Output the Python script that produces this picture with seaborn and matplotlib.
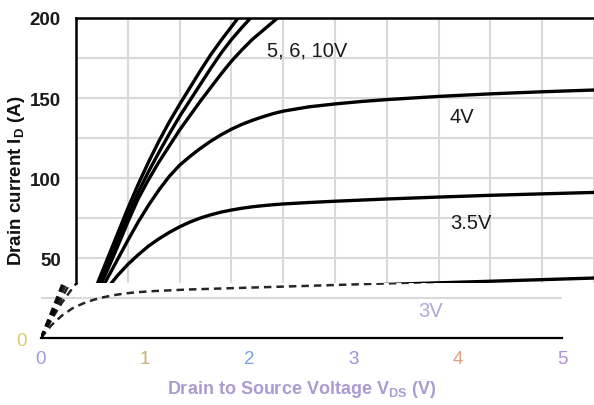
import numpy as np
import pandas as pd
import matplotlib
matplotlib.use("Agg")
import matplotlib.pyplot as plt
import seaborn as sns

# ---- data ----
V_hi = [0, 0.1, 0.2, 0.3, 0.4, 0.5, 0.6, 0.7, 0.8, 0.9, 1.0, 1.1, 1.2, 1.3, 1.4,
        1.5, 1.6, 1.7, 1.8, 1.9, 2.0, 2.1, 2.2]
I_10V = [0, 16.5, 33, 49, 65, 81, 96, 110, 123, 135, 146, 156.5, 167, 177, 186,
         194.5, 203, 211, 218, 225, 232, 238.5, 245]
I_6V = [0, 15.5, 31, 46, 61, 76.5, 91, 104, 116, 127.5, 138.5, 148.5, 158.5, 168.5, 178,
        186.5, 194, 201, 208, 214, 220, 225.5, 231]
I_5V = [0, 14, 28, 42, 57, 72.5, 87, 99, 110, 120, 130, 139, 148, 156.5, 165,
        173, 180, 186.5, 192, 197.5, 203, 208, 213]

V_lo = [0, 0.1, 0.2, 0.3, 0.4, 0.5, 0.6, 0.7, 0.8, 0.9, 1.0, 1.1, 1.2, 1.3, 1.4,
        1.5, 1.6, 1.7, 1.8, 1.9, 2.0, 2.25, 2.5, 2.75, 3.0, 3.5, 4.0, 4.5, 5.0]
I_4V = [0, 12.5, 25, 37, 49, 61, 72.5, 83, 92.5, 101, 108, 113.5, 118.5, 123, 127,
        130.5, 133.5, 136, 138.2, 140.2, 141.8, 144.5, 146.3, 147.8, 149, 151, 152.6, 153.9, 155]
I_3_5V = [0, 11.5, 22, 31, 39, 46, 52, 57.5, 62, 66, 69.5, 72.5, 75, 77, 78.7,
          80, 81.1, 82, 82.7, 83.3, 83.8, 84.7, 85.5, 86.2, 86.9, 88.1, 89.2, 90.1, 91]
I_3V = [0, 8, 14, 18.5, 21.5, 23.8, 25.5, 26.8, 27.8, 28.5, 29, 29.4, 29.7, 30, 30.3,
        30.5, 30.7, 30.9, 31.1, 31.3, 31.5, 32, 32.5, 33, 33.5, 34.5, 35.5, 36.5, 37.5]

x_ticks = [0, 1, 2, 3, 4, 5]
y_ticks = [50, 100, 150, 200]
curve_labels = ["5, 6, 10V", "4V", "3.5V", "3V"]

rows = []
for name, vs, cur in [("10V", V_hi, I_10V), ("6V", V_hi, I_6V), ("5V", V_hi, I_5V),
                      ("4V", V_lo, I_4V), ("3.5V", V_lo, I_3_5V), ("3V", V_lo, I_3V)]:
    for v, i in zip(vs, cur):
        rows.append({"Vgs": name, "V": v, "I": i})
df = pd.DataFrame(rows)
pal = {k: "black" for k in df["Vgs"].unique()}

sns.set_theme(style="white")
plt.rcParams["font.family"] = ["Liberation Sans", "DejaVu Sans"]
plt.rcParams["mathtext.default"] = "regular"

W, H = 594, 406
fig = plt.figure(figsize=(W / 100, H / 100), dpi=100)
fig.patch.set_facecolor("white")


def rect(x0, y0, x1, y1):
    return [x0 / W, 1 - y1 / H, (x1 - x0) / W, (y1 - y0) / H]


ax = fig.add_axes(rect(76, 19, 594, 284))
ax2 = fig.add_axes(rect(41, 284, 562, 339))
ax2.set_zorder(0)
ax.set_zorder(1)
ax.patch.set_alpha(0)
ax2.patch.set_alpha(0)

BOUND = 34.4

# ---- upper (main) part ----
sns.lineplot(data=df, x="V", y="I", hue="Vgs", palette=pal, legend=False,
             ax=ax, linewidth=2.4, sort=False, estimator=None)
for ln in ax.get_lines():
    ln.set_solid_joinstyle("round")
ax.set_xlim(0, 5)
ax.set_ylim(BOUND, 200)
ax.set_xticks(np.arange(0, 5.01, 0.5))
ax.set_xticklabels([])
ax.set_yticks(y_ticks)
ax.set_yticks([75, 125, 175], minor=True)
ax.grid(True, which="both", color="#d9d9d9", linewidth=1.5)
ax.set_axisbelow(True)
ax.tick_params(axis="both", which="both", length=0)
ax.tick_params(axis="y", pad=11, labelsize=13.5, labelcolor="#1a1a1a")
for t in ax.get_yticklabels():
    t.set_fontweight("bold")
for s in ["bottom", "right"]:
    ax.spines[s].set_visible(False)
for s in ["top", "left"]:
    ax.spines[s].set_color("black")
    ax.spines[s].set_linewidth(1.8)
ax.set_xlabel("")
ax.set_ylabel("Drain current I$_{D}$ (A)", fontsize=13.5, fontweight="bold",
              color="#111111", va="center")
ax.yaxis.set_label_coords((17 - 76) / 518, (284 - 181) / 265)

ax.text(1.84, 176.3, curve_labels[0], fontsize=14.5, color="#1a1a1a", ha="left", va="baseline")
ax.text(3.61, 135, curve_labels[1], fontsize=14.5, color="#1a1a1a", ha="left", va="baseline")
ax.text(3.61, 68.8, curve_labels[2], fontsize=14.5, color="#1a1a1a", ha="left", va="baseline")

# ---- lower (shifted, faded) band ----
sns.lineplot(data=df, x="V", y="I", hue="Vgs", palette=pal, legend=False,
             ax=ax2, linewidth=1.8, sort=False, estimator=None,
             linestyle=(0, (3, 2)), alpha=0.85)
ax2.set_xlim(0, 5)
ax2.set_ylim(0, BOUND)
ax2.set_xticks(x_ticks)
ax2.set_xticklabels([str(v) for v in x_ticks])
ax2.set_yticks([0])
ax2.set_yticklabels(["0"])
ax2.set_yticks([25], minor=True)
ax2.grid(True, which="minor", axis="y", color="#d9d9d9", linewidth=1.5)
ax2.grid(False, which="major")
ax2.tick_params(axis="both", which="both", length=0)
ax2.tick_params(axis="x", pad=9, labelsize=13.5)
ax2.tick_params(axis="y", pad=10.5, labelsize=13.5, labelcolor="#d8cc70")
tick_cols = ["#9c9ce0", "#c8b070", "#78a4e0", "#9890d8", "#e0a080", "#b090d8"]
for t, c in zip(ax2.get_xticklabels(), tick_cols):
    t.set_color(c)
for s in ["top", "left", "right"]:
    ax2.spines[s].set_visible(False)
ax2.spines["bottom"].set_color("black")
ax2.spines["bottom"].set_linewidth(1.6)
ax2.set_ylabel("")
ax2.set_xlabel("Drain to Source Voltage V$_{DS}$ (V)", fontsize=13, fontweight="bold",
               color="#aa9cd0", va="center")
ax2.xaxis.set_label_coords(0.5, -(390 - 339) / 55)
ax2.text(3.62, 13.8, curve_labels[3], fontsize=14.5, color="#b0a8d8", ha="left", va="baseline")

fig.savefig("out.png", dpi=100, facecolor="white")
